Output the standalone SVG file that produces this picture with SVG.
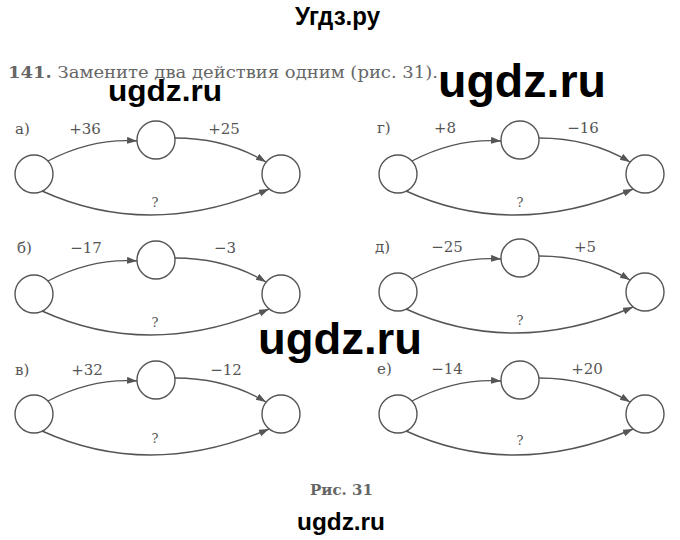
<svg xmlns="http://www.w3.org/2000/svg" width="680" height="540" viewBox="0 0 680 540">
<style>
.bg{fill:#fff}
.node{fill:#fff;stroke:#555;stroke-width:1.4}
.edge{fill:none;stroke:#555;stroke-width:1.4}
.lbl{font-family:"DejaVu Serif","Liberation Serif",serif;font-size:15px;fill:#555}
.op{text-anchor:middle}
.q{font-family:"DejaVu Serif","Liberation Serif",serif;font-size:13px;fill:#555;text-anchor:middle}
.wm{font-family:"Liberation Sans",Arial,sans-serif;font-weight:bold;fill:#000}
.head{font-family:"DejaVu Serif","Liberation Serif",serif;font-size:16.5px;fill:#666}
</style>
<defs>
<marker id="arr" markerUnits="userSpaceOnUse" markerWidth="11" markerHeight="8" refX="10" refY="3.5" orient="auto">
<path d="M0,0 L10,3.5 L0,7 z" fill="#555"/>
</marker>
</defs>
<rect class="bg" x="0" y="0" width="680" height="540"/>

<text class="wm" x="295" y="25" font-size="26" textLength="85" lengthAdjust="spacingAndGlyphs">Угдз.ру</text>
<text class="head" x="8" y="78" textLength="430" lengthAdjust="spacingAndGlyphs"><tspan font-weight="bold">141.</tspan> Замените два действия одним (рис. 31).</text>
<text class="wm" x="438" y="97" font-size="46" textLength="168" lengthAdjust="spacingAndGlyphs">ugdz.ru</text>
<text class="wm" x="108" y="101" font-size="30" textLength="114" lengthAdjust="spacingAndGlyphs">ugdz.ru</text>

<!-- panel а -->
<g id="panel-a">
<g id="a-start"><circle class="node" cx="34" cy="174" r="19"/></g>
<g id="a-mid"><circle class="node" cx="156" cy="140" r="19"/></g>
<g id="a-end"><circle class="node" cx="281" cy="174" r="19"/></g>
<g id="a-connectors">
<path class="edge" d="M48,161 Q92,138 137,141" marker-end="url(#arr)"/>
<path class="edge" d="M175,138 Q226,138 266,162" marker-end="url(#arr)"/>
<path class="edge" d="M42,191 Q150,240 269,189" marker-end="url(#arr)"/>
</g>
<text class="lbl" x="15" y="134">а)</text>
<text class="lbl op" x="85" y="134">+36</text>
<text class="lbl op" x="224" y="134">+25</text>
<text class="q" x="155" y="207">?</text>
</g>

<!-- panel б -->
<g id="panel-b" transform="translate(0,120)">
<g id="b-start"><circle class="node" cx="34" cy="174" r="19"/></g>
<g id="b-mid"><circle class="node" cx="156" cy="140" r="19"/></g>
<g id="b-end"><circle class="node" cx="281" cy="174" r="19"/></g>
<g id="b-connectors">
<path class="edge" d="M48,161 Q92,138 137,141" marker-end="url(#arr)"/>
<path class="edge" d="M175,138 Q226,138 266,162" marker-end="url(#arr)"/>
<path class="edge" d="M42,191 Q150,240 269,189" marker-end="url(#arr)"/>
</g>
<text class="lbl" x="17" y="133">б)</text>
<text class="lbl op" x="86" y="133">−17</text>
<text class="lbl op" x="225" y="133">−3</text>
<text class="q" x="155" y="207">?</text>
</g>

<!-- panel в -->
<g id="panel-v" transform="translate(0,240)">
<g id="v-start"><circle class="node" cx="34" cy="174" r="19"/></g>
<g id="v-mid"><circle class="node" cx="156" cy="140" r="19"/></g>
<g id="v-end"><circle class="node" cx="281" cy="174" r="19"/></g>
<g id="v-connectors">
<path class="edge" d="M48,161 Q92,138 137,141" marker-end="url(#arr)"/>
<path class="edge" d="M175,138 Q226,138 266,162" marker-end="url(#arr)"/>
<path class="edge" d="M42,191 Q150,240 269,189" marker-end="url(#arr)"/>
</g>
<text class="lbl" x="15" y="135">в)</text>
<text class="lbl op" x="87" y="135">+32</text>
<text class="lbl op" x="226" y="135">−12</text>
<text class="q" x="155" y="203">?</text>
</g>

<!-- panel г -->
<g id="panel-g" transform="translate(364,0)">
<g id="g-start"><circle class="node" cx="34" cy="174" r="19"/></g>
<g id="g-mid"><circle class="node" cx="156" cy="140" r="19"/></g>
<g id="g-end"><circle class="node" cx="281" cy="174" r="19"/></g>
<g id="g-connectors">
<path class="edge" d="M48,161 Q92,138 137,141" marker-end="url(#arr)"/>
<path class="edge" d="M175,138 Q226,138 266,162" marker-end="url(#arr)"/>
<path class="edge" d="M42,191 Q150,240 269,189" marker-end="url(#arr)"/>
</g>
<text class="lbl" x="13" y="133">г)</text>
<text class="lbl op" x="81" y="133">+8</text>
<text class="lbl op" x="219" y="133">−16</text>
<text class="q" x="156" y="207">?</text>
</g>

<!-- panel д -->
<g id="panel-d" transform="translate(364,118)">
<g id="d-start"><circle class="node" cx="34" cy="174" r="19"/></g>
<g id="d-mid"><circle class="node" cx="156" cy="140" r="19"/></g>
<g id="d-end"><circle class="node" cx="281" cy="174" r="19"/></g>
<g id="d-connectors">
<path class="edge" d="M48,161 Q92,138 137,141" marker-end="url(#arr)"/>
<path class="edge" d="M175,138 Q226,138 266,162" marker-end="url(#arr)"/>
<path class="edge" d="M42,191 Q150,240 269,189" marker-end="url(#arr)"/>
</g>
<text class="lbl" x="11" y="134">д)</text>
<text class="lbl op" x="83" y="134">−25</text>
<text class="lbl op" x="221" y="134">+5</text>
<text class="q" x="156" y="207">?</text>
</g>

<!-- panel е -->
<g id="panel-e" transform="translate(364,240)">
<g id="e-start"><circle class="node" cx="34" cy="174" r="19"/></g>
<g id="e-mid"><circle class="node" cx="156" cy="140" r="19"/></g>
<g id="e-end"><circle class="node" cx="281" cy="174" r="19"/></g>
<g id="e-connectors">
<path class="edge" d="M48,161 Q92,138 137,141" marker-end="url(#arr)"/>
<path class="edge" d="M175,138 Q226,138 266,162" marker-end="url(#arr)"/>
<path class="edge" d="M42,191 Q150,240 269,189" marker-end="url(#arr)"/>
</g>
<text class="lbl" x="13" y="134">е)</text>
<text class="lbl op" x="83" y="134">−14</text>
<text class="lbl op" x="223" y="134">+20</text>
<text class="q" x="156" y="205">?</text>
</g>

<text class="wm" x="258" y="354" font-size="45" textLength="164" lengthAdjust="spacingAndGlyphs">ugdz.ru</text>
<text x="310" y="495" font-family="'DejaVu Serif','Liberation Serif',serif" font-weight="bold" font-size="15" fill="#666" textLength="63" lengthAdjust="spacingAndGlyphs">Рис. 31</text>
<text class="wm" x="297" y="530" font-size="24" textLength="88" lengthAdjust="spacingAndGlyphs">ugdz.ru</text>
</svg>
